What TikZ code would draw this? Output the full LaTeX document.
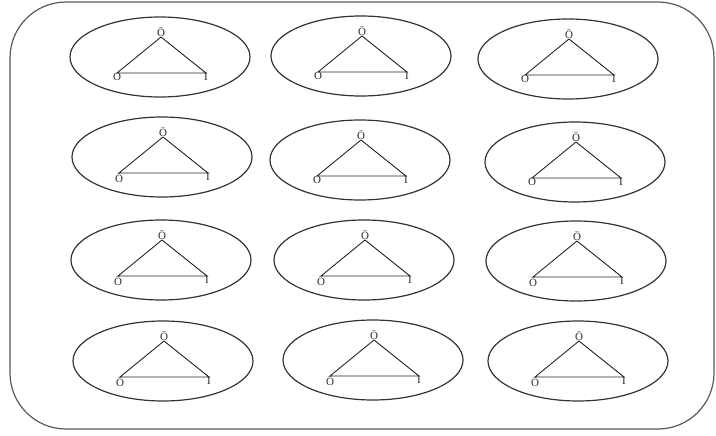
\documentclass[tikz,border=0pt]{standalone}
\usepackage{fontspec}
\setmainfont{Liberation Serif}
\usepackage{tikz}
\usetikzlibrary{shapes.geometric}

\begin{document}
\begin{tikzpicture}[
  x=1pt, y=-1pt,
  frame/.style={draw=black!65, line width=1.2pt, rounded corners=56pt},
  ring/.style={ellipse, draw=black!80, line width=1.2pt, minimum width=180pt,
               minimum height=80pt, inner sep=0pt},
  lbl/.style={font=\fontsize{11}{12}\selectfont, inner sep=0.3pt, text=black!85},
  side/.style={draw=black!85, line width=0.9pt},
  pics/cell/.style={code={
    \node[ring] (-ring) at (0,0) {};
    \node[lbl, anchor=south] (-top) at (1,-20) {Ö};
    \node[lbl, anchor=north] (-left) at (-43,16) {#1};
    \node[lbl, anchor=north] (-right) at (46,16) {I};
    \draw[side] (-top.south) -- (-left.north) -- (-right.north) -- (-top.south);
  }}
]
\useasboundingbox (0,0) rectangle (716,436);

% Outer frame
\draw[frame] (10,2) rectangle (714,429);

% First row
\pic (a1) at (160,57) {cell=O};
\pic (a2) at (361,56) {cell=O};
\pic (a3) at (568,59) {cell=O};

% Second row
\pic (b1) at (162,157) {cell=Ö};
\pic (b2) at (360,160) {cell=O};
\pic (b3) at (575,162) {cell=O};

% Third row
\pic (c1) at (161,260) {cell=Ö};
\pic (c2) at (364,260) {cell=Ö};
\pic (c3) at (576,261) {cell=Ö};

% Fourth row
\pic (d1) at (163,361) {cell=Ö};
\pic (d2) at (373,360) {cell=Ö};
\pic (d3) at (578,361) {cell=Ö};

\end{tikzpicture}
\end{document}
